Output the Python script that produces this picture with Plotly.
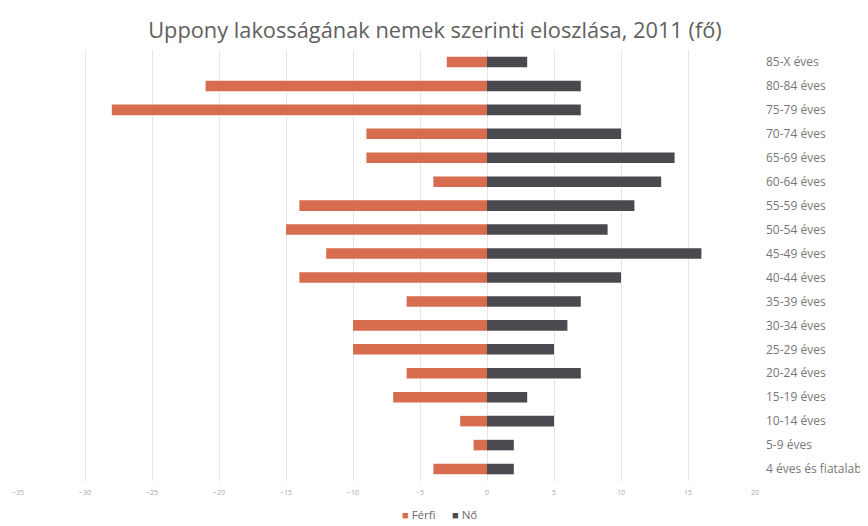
import plotly.graph_objects as go
import numpy as np

categories = ["4 éves és fiatalabb", "5-9 éves", "10-14 éves", "15-19 éves", "20-24 éves",
              "25-29 éves", "30-34 éves", "35-39 éves", "40-44 éves", "45-49 éves",
              "50-54 éves", "55-59 éves", "60-64 éves", "65-69 éves", "70-74 éves",
              "75-79 éves", "80-84 éves", "85-X éves"]
ferfi = [4, 1, 2, 7, 6, 10, 10, 6, 14, 12, 15, 14, 4, 9, 9, 28, 21, 3]
no = [2, 2, 5, 3, 7, 5, 6, 7, 10, 16, 9, 11, 13, 14, 10, 7, 7, 3]
tick_vals = [-35, -30, -25, -20, -15, -10, -5, 0, 5, 10, 15, 20]
series_names = ["Férfi", "Nő"]
series_colors = ["#D86C4E", "#4A494F"]

fig = go.Figure()
fig.add_trace(go.Bar(y=categories, x=-np.array(ferfi), name=series_names[0], orientation="h",
                     marker=dict(color=series_colors[0], line=dict(width=0))))
fig.add_trace(go.Bar(y=categories, x=no, name=series_names[1], orientation="h",
                     marker=dict(color=series_colors[1], line=dict(width=0))))

W, H = 860, 518
L, R, T, B = 10, 113, 42, 45
PW, PH = W - L - R, H - T - B

def px_x(p):
    return (p - L) / PW

def px_y(p):
    return 1 - (p - T) / PH

# legend drawn as text (tight marker/text spacing as in the reference)
legend_x = [392, 442]
for name, color, lx in zip(series_names, series_colors, legend_x):
    fig.add_annotation(xref="paper", yref="paper", x=px_x(lx), y=px_y(506),
                       xanchor="left", yanchor="middle", showarrow=False,
                       text=f"<span style='color:{color};font-size:11px'>■</span> {name}",
                       font=dict(size=11.5, color="#6b6b6b", family="Open Sans"))

fig.update_layout(
    width=W, height=H,
    barmode="overlay", bargap=0.56,
    paper_bgcolor="white", plot_bgcolor="white",
    margin=dict(l=L, r=R, t=T, b=B),
    title=dict(text="Uppony lakosságának nemek szerinti eloszlása, 2011 (fő)",
               x=0.4965, xanchor="center", y=1 - 22 / H, yanchor="middle",
               font=dict(family="Open Sans", size=21.8, color="#606060")),
    font=dict(family="Open Sans", color="#7f7f7f"),
    xaxis=dict(range=[-35, 20], tickvals=tick_vals, showgrid=True, gridcolor="#e6e6e6",
               gridwidth=1, zeroline=False, showline=False, ticks="",
               tickfont=dict(size=7, color="#a8a8a8"), ticklabelstandoff=6,
               automargin=False),
    yaxis=dict(categoryorder="array", categoryarray=categories, side="right",
               showgrid=False, zeroline=False, showline=False, ticks="",
               tickfont=dict(size=12, color="#777777"), ticklabelstandoff=10,
               range=[-0.5, 17.5], automargin=False),
    showlegend=False,
)

fig.write_html("out.html")
